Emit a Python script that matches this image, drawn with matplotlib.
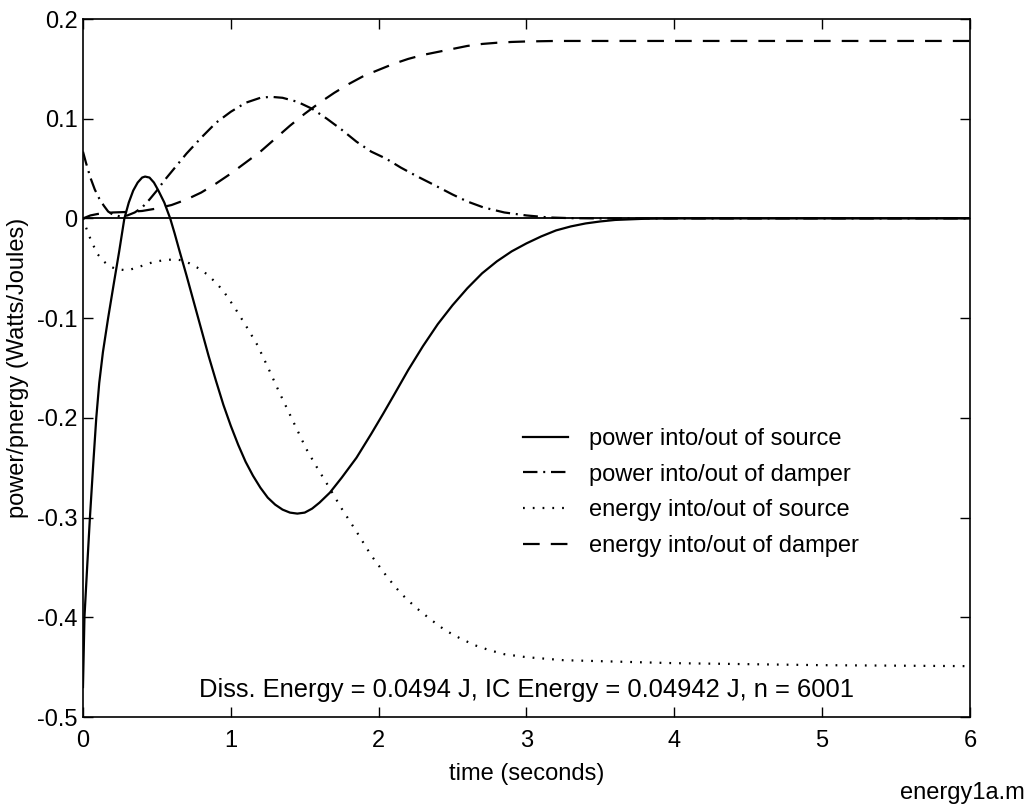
import matplotlib
matplotlib.use("Agg")
import matplotlib.pyplot as plt

plt.rcParams['font.family'] = ['Liberation Sans', 'DejaVu Sans']

# power into/out of source (solid)
t_ps = [0, 0.01, 0.03, 0.047, 0.07, 0.09, 0.11, 0.135, 0.17, 0.21, 0.245, 0.28, 0.31,
        0.34, 0.37, 0.4, 0.42, 0.45, 0.48, 0.51, 0.55, 0.59, 0.62, 0.65, 0.7, 0.75,
        0.8, 0.85, 0.9, 0.95, 1.0, 1.05, 1.1, 1.15, 1.2, 1.25, 1.3, 1.35, 1.4, 1.45,
        1.5, 1.55, 1.6, 1.67, 1.75, 1.85, 1.95, 2.03, 2.1, 2.2, 2.3, 2.4, 2.5, 2.6,
        2.7, 2.8, 2.9, 3.0, 3.1, 3.2, 3.3, 3.4, 3.5, 3.6, 3.8, 4.0, 6.0]
p_src = [-0.47, -0.40, -0.345, -0.30, -0.245, -0.20, -0.165, -0.134, -0.10, -0.064,
         -0.033, 0.0, 0.016, 0.028, 0.036, 0.041, 0.042, 0.041, 0.036, 0.028, 0.016,
         0.0, -0.015, -0.031, -0.057, -0.084, -0.111, -0.138, -0.163, -0.187, -0.208,
         -0.227, -0.244, -0.258, -0.270, -0.280, -0.287, -0.292, -0.295, -0.296,
         -0.295, -0.291, -0.285, -0.275, -0.26, -0.24, -0.216, -0.196, -0.178, -0.152,
         -0.128, -0.106, -0.087, -0.07, -0.055, -0.043, -0.033, -0.025, -0.018,
         -0.012, -0.008, -0.005, -0.003, -0.0015, -0.0003, 0.0, 0.0]

# power into/out of damper (dash-dot)
t_pd = [0, 0.02, 0.05, 0.08, 0.11, 0.14, 0.17, 0.2, 0.25, 0.3, 0.35, 0.4, 0.45, 0.5,
        0.55, 0.6, 0.65, 0.7, 0.8, 0.9, 1.0, 1.1, 1.2, 1.27, 1.35, 1.45, 1.55, 1.65,
        1.75, 1.85, 1.95, 2.05, 2.15, 2.25, 2.37, 2.5, 2.6, 2.71, 2.85, 3.0, 3.15,
        3.3, 3.5, 6.0]
p_dmp = [0.067, 0.056, 0.041, 0.029, 0.020, 0.013, 0.007, 0.004, 0.002, 0.003, 0.006,
         0.011, 0.019, 0.028, 0.038, 0.047, 0.056, 0.065, 0.081, 0.096, 0.107, 0.116,
         0.121, 0.122, 0.121, 0.117, 0.110, 0.100, 0.089, 0.077, 0.067, 0.060, 0.051,
         0.043, 0.034, 0.024, 0.017, 0.011, 0.006, 0.003, 0.001, 0.0003, 0.0, 0.0]

# energy into/out of source (dotted)
t_es = [0, 0.03, 0.06, 0.1, 0.14, 0.18, 0.23, 0.3, 0.35, 0.39, 0.47, 0.54, 0.62, 0.67,
        0.72, 0.77, 0.84, 0.91, 0.96, 1.02, 1.1, 1.18, 1.25, 1.33, 1.42, 1.51, 1.58,
        1.65, 1.75, 1.85, 1.95, 2.06, 2.15, 2.25, 2.35, 2.45, 2.55, 2.65, 2.75, 2.85,
        3.0, 3.25, 3.5, 4.0, 5.0, 6.0]
e_src = [0.0, -0.013, -0.024, -0.036, -0.043, -0.048, -0.051, -0.052, -0.050, -0.048,
         -0.044, -0.042, -0.041, -0.042, -0.045, -0.049, -0.056, -0.066, -0.075,
         -0.088, -0.107, -0.127, -0.149, -0.175, -0.203, -0.231, -0.249, -0.266,
         -0.291, -0.314, -0.338, -0.360, -0.376, -0.390, -0.402, -0.413, -0.421,
         -0.428, -0.433, -0.437, -0.440, -0.443, -0.444, -0.446, -0.448, -0.449]

# energy into/out of damper (dashed)
t_ed = [0, 0.05, 0.1, 0.2, 0.3, 0.4, 0.5, 0.6, 0.7, 0.8, 0.9, 1.0, 1.1, 1.2, 1.3, 1.4,
        1.5, 1.6, 1.7, 1.8, 1.9, 2.0, 2.1, 2.2, 2.3, 2.4, 2.5, 2.6, 2.7, 2.8, 2.9, 3.0,
        3.2, 6.0]
e_dmp = [0.0, 0.003, 0.0045, 0.006, 0.0065, 0.0075, 0.010, 0.0135, 0.019, 0.026, 0.035,
         0.045, 0.056, 0.067, 0.08, 0.093, 0.105, 0.116, 0.126, 0.135, 0.143, 0.149,
         0.155, 0.160, 0.164, 0.167, 0.170, 0.173, 0.175, 0.1762, 0.177, 0.1775, 0.178,
         0.178]

fig = plt.figure(figsize=(10.32, 8.06), dpi=100)
ax = fig.add_axes([0.0804, 0.1104, 0.8595, 0.866])

fs = 17
lw = 1.6
ax.plot([0, 6], [0, 0], color='black', lw=1.3)
ax.plot(t_ps, p_src, color='black', lw=lw, label='power into/out of source')
ax.plot(t_pd, p_dmp, color='black', lw=lw, dashes=(6.5, 2.6, 0.9, 2.6),
        label='power into/out of damper')
ax.plot(t_es, e_src, color='black', lw=lw, dashes=(0.8, 3.6),
        label='energy into/out of source')
ax.plot(t_ed, e_dmp, color='black', lw=lw, dashes=(7.5, 5),
        label='energy into/out of damper')

ax.set_xlim(0, 6)
ax.set_ylim(-0.5, 0.2)
ax.set_xticks([0, 1, 2, 3, 4, 5, 6])
ax.set_yticks([-0.5, -0.4, -0.3, -0.2, -0.1, 0, 0.1, 0.2])
ax.set_yticklabels(['-0.5', '-0.4', '-0.3', '-0.2', '-0.1', '0', '0.1', '0.2'])
ax.tick_params(direction='in', top=True, right=True, length=7, width=1,
               labelsize=fs, pad=4)
ax.tick_params(axis='x', pad=9)
for s in ax.spines.values():
    s.set_linewidth(1.2)

ax.set_xlabel('time (seconds)', fontsize=fs, labelpad=8)
ax.set_ylabel('power/pnergy (Watts/Joules)', fontsize=fs, labelpad=6)

ax.text(3.0, -0.473, 'Diss. Energy = 0.0494 J, IC Energy = 0.04942 J, n = 6001',
        ha='center', va='center', fontsize=18.4)

ax.legend(loc='upper left', bbox_to_anchor=(523 / 1032, 1 - 428 / 806),
          bbox_transform=fig.transFigure, frameon=False, fontsize=fs,
          handlelength=1.9, handletextpad=0.9, labelspacing=0.58,
          borderpad=0, borderaxespad=0)

fig.text(1025 / 1032, 1 - 793 / 806, 'energy1a.m', ha='right', va='center',
         fontsize=fs)

fig.savefig('out.png', dpi=100)
